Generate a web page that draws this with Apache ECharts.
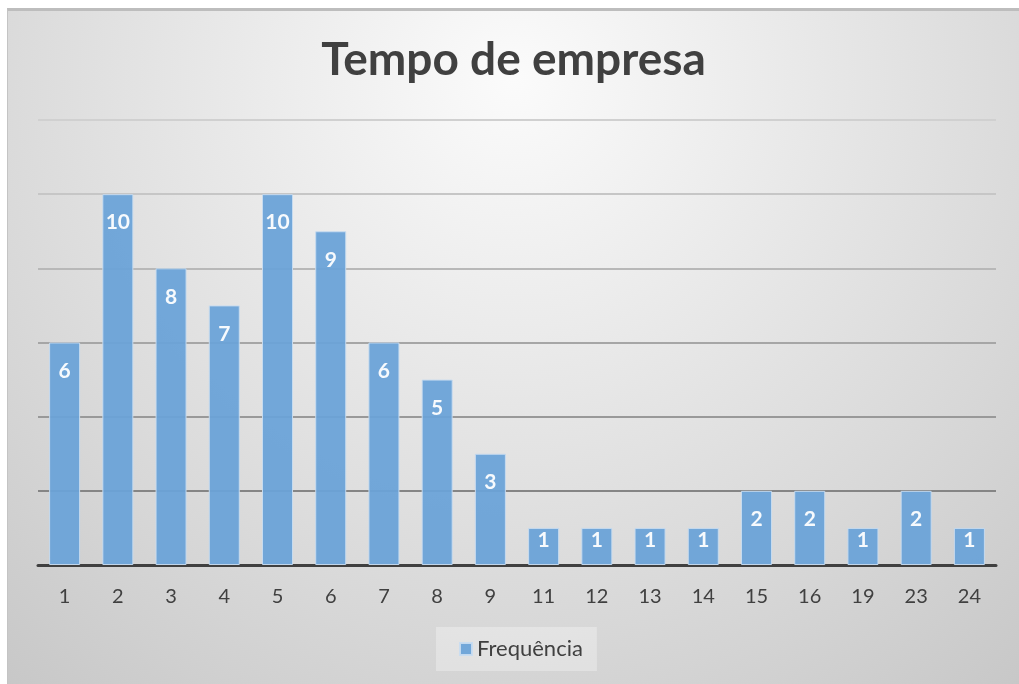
<!DOCTYPE html>
<html>
<head>
<meta charset="utf-8">
<script src="https://cdn.jsdelivr.net/npm/echarts@6/dist/echarts.min.js"></script>
<style>
  html, body { margin: 0; padding: 0; background: #ffffff; width: 1019px; height: 684px; overflow: hidden; }
  #wrap { position: absolute; left: 7px; top: 8px; border-top: 3px solid #bdbdbd; border-left: 1px solid #c4c4c4; }
  #chart { width: 1011px; height: 673px; }
</style>
</head>
<body>
<div id="wrap"><div id="chart"></div></div>
<script>
const categories = ['1', '2', '3', '4', '5', '6', '7', '8', '9', '11', '12', '13', '14', '15', '16', '19', '23', '24'];
const frequencia = [6, 10, 8, 7, 10, 9, 6, 5, 3, 1, 1, 1, 1, 2, 2, 1, 2, 1];
const seriesName = 'Frequência';
const titleText = 'Tempo de empresa';

const chart = echarts.init(document.getElementById('chart'));

const barData = frequencia.map(v => ({
  value: v,
  label: { distance: v >= 2 ? 18 : 2 }
}));

const option = {
  backgroundColor: {
    type: 'radial', x: 0.5, y: 0.1, r: 1.25,
    colorStops: [
      { offset: 0, color: '#fbfbfb' },
      { offset: 0.3, color: '#ebebeb' },
      { offset: 0.65, color: '#d8d8d8' },
      { offset: 1, color: '#c4c4c4' }
    ]
  },
  title: {
    text: titleText,
    left: 'center',
    top: 21,
    textStyle: { fontFamily: 'Lato', fontWeight: 'bold', fontSize: 46, color: '#404040' }
  },
  legend: {
    data: [seriesName],
    left: 428,
    bottom: 13,
    icon: 'rect',
    itemWidth: 12,
    itemHeight: 12,
    itemGap: 7,
    padding: [11, 14, 11, 23],
    backgroundColor: 'rgba(255,255,255,0.3)',
    textStyle: { fontFamily: 'Lato', fontSize: 22, color: '#404040' }
  },
  grid: { left: 30, right: 23, top: 109, bottom: 119, containLabel: false },
  xAxis: {
    type: 'category',
    data: categories,
    axisTick: { show: false },
    axisLine: { lineStyle: { color: '#404040', width: 3 } },
    axisLabel: { margin: 22, fontFamily: 'Lato', fontSize: 20, color: '#404040' }
  },
  yAxis: {
    type: 'value',
    min: 0, max: 12, interval: 2,
    axisLabel: { show: false },
    axisLine: { show: false },
    axisTick: { show: false },
    splitLine: {
      lineStyle: {
        width: 2,
        color: ['#808080', '#858585', '#999999', '#a6a6a6', '#b8b8b8', '#c6c6c6', '#d0d0d0']
      }
    }
  },
  series: [{
    name: seriesName,
    type: 'bar',
    data: barData,
    barWidth: 31,
    itemStyle: { color: '#6aa3d8', opacity: 0.94, borderColor: '#c8dcf0', borderWidth: 1 },
    label: {
      show: true,
      position: 'insideTop',
      color: '#ffffff',
      fontFamily: 'Lato',
      fontWeight: 'bold',
      fontSize: 21
    }
  }]
};
chart.setOption(option);
</script>
</body>
</html>
